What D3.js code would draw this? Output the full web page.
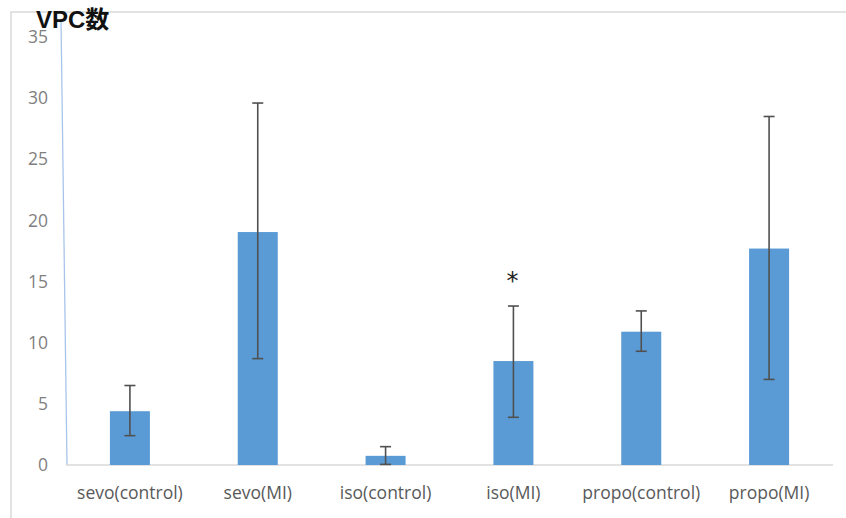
<!DOCTYPE html>
<html>
<head>
<meta charset="utf-8">
<script src="https://cdn.jsdelivr.net/npm/d3@7/dist/d3.min.js"></script>
<style>
html,body{margin:0;padding:0;background:#fff;}
svg{display:block;}
</style>
</head>
<body>
<svg id="chart" width="846" height="518"></svg>
<script>
const categories = ["sevo(control)", "sevo(MI)", "iso(control)", "iso(MI)", "propo(control)", "propo(MI)"];
const means = [4.4, 19.05, 0.75, 8.5, 10.9, 17.7];
const errLow = [2.4, 8.7, 0.05, 3.9, 9.3, 7.0];
const errHigh = [6.5, 29.6, 1.5, 13.0, 12.6, 28.5];
const yTicks = [0, 5, 10, 15, 20, 25, 30, 35];
const title = "VPC数";
const starred = ["iso(MI)"];

const svg = d3.select("#chart");
const margin = {left: 66, right: 13, top: 37, bottom: 53};
const W = 846, H = 518;

const x = d3.scaleBand().domain(categories).range([margin.left, W - margin.right]).paddingInner(0.687).paddingOuter(0.3435);
const y = d3.scaleLinear().domain([0, 35]).range([H - margin.bottom, margin.top]);

// chart area frame
svg.append("rect").attr("x", 11).attr("y", 12).attr("width", 860).attr("height", 530)
  .attr("fill", "none").attr("stroke", "#d9d9d9").attr("stroke-width", 1.5);

// y tick labels
const yAxis = d3.axisLeft(y).tickValues(yTicks).tickSize(0).tickPadding(18);
const gy = svg.append("g").attr("transform", `translate(${margin.left},0)`).call(yAxis);
gy.select(".domain").remove();
gy.selectAll("text").attr("font-family", "'Open Sans', 'Noto Sans', sans-serif").attr("font-size", 17.5)
  .attr("fill", "#7f7f7f");

// slanted blue axis line
svg.append("line")
  .attr("x1", margin.left - 5).attr("y1", y(35) - 18)
  .attr("x2", margin.left + 1).attr("y2", y(0))
  .attr("stroke", "#a9c4eb").attr("stroke-width", 1.3);

// baseline
svg.append("line").attr("x1", margin.left).attr("x2", W - margin.right)
  .attr("y1", y(0)).attr("y2", y(0)).attr("stroke", "#d9d9d9").attr("stroke-width", 1.5);

// bars
svg.append("g").selectAll("rect").data(categories).join("rect")
  .attr("x", d => x(d)).attr("width", x.bandwidth())
  .attr("y", (d, i) => y(means[i])).attr("height", (d, i) => y(0) - y(means[i]))
  .attr("fill", "#5b9bd5");

// error bars
const eg = svg.append("g").attr("stroke", "#505050").attr("stroke-width", 1.6);
categories.forEach((c, i) => {
  const cx = x(c) + x.bandwidth() / 2;
  eg.append("line").attr("x1", cx).attr("x2", cx).attr("y1", y(errLow[i])).attr("y2", y(errHigh[i]));
  eg.append("line").attr("x1", cx - 5.5).attr("x2", cx + 5.5).attr("y1", y(errLow[i])).attr("y2", y(errLow[i]));
  eg.append("line").attr("x1", cx - 5.5).attr("x2", cx + 5.5).attr("y1", y(errHigh[i])).attr("y2", y(errHigh[i]));
});

// asterisk
starred.forEach(c => {
  const i = categories.indexOf(c);
  svg.append("text").attr("x", x(c) + x.bandwidth() / 2 - 1).attr("y", y(errHigh[i]) - 17)
    .attr("text-anchor", "middle").attr("font-family", "'DejaVu Sans', sans-serif").attr("font-size", 24)
    .attr("fill", "#222").text("*");
});

// x labels
const xAxis = d3.axisBottom(x).tickSize(0).tickPadding(22);
const gx = svg.append("g").attr("transform", `translate(0,${y(0)})`).call(xAxis);
gx.select(".domain").remove();
gx.selectAll("text").attr("font-family", "'Open Sans', 'Noto Sans', sans-serif").attr("font-size", 17.5)
  .attr("fill", "#595959");

// title
svg.append("text").attr("x", 36).attr("y", 28)
  .attr("font-family", "'Liberation Sans', 'Noto Sans CJK JP', sans-serif").attr("font-weight", "bold")
  .attr("font-size", 24).attr("fill", "#111").text(title);
</script>
</body>
</html>
